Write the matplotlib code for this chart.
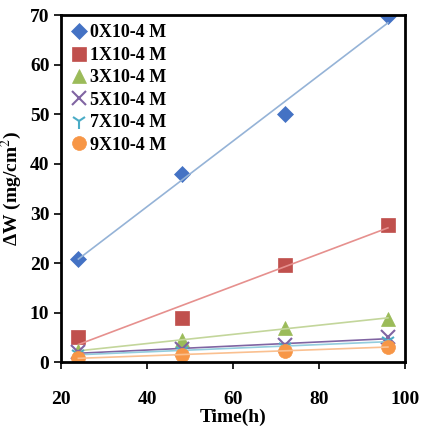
import numpy as np
import matplotlib.pyplot as plt

plt.rcParams['font.family'] = ['Liberation Serif', 'DejaVu Serif']
plt.rcParams['mathtext.fontset'] = 'stix'

time_h = [24, 48, 72, 96]
labels = ["0X10-4 M", "1X10-4 M", "3X10-4 M", "5X10-4 M", "7X10-4 M", "9X10-4 M"]
c0 = [20.8, 38.0, 50.0, 69.8]
c1 = [5.0, 9.0, 19.7, 27.6]
c3 = [2.2, 4.5, 6.9, 8.8]
c5 = [2.0, 2.6, 3.4, 5.0]
c7 = [1.6, 2.3, 3.0, 4.3]
c9 = [0.8, 1.5, 2.2, 3.1]
series = [c0, c1, c3, c5, c7, c9]

markers = ['D', 's', '^', 'x', '1', 'o']
colors = ['#4472c4', '#c0504d', '#9bbb59', '#8064a2', '#4bacc6', '#f79646']
linecols = ['#95b3d7', '#e6908e', '#c3d69b', '#8064a2', '#93cddd', '#fac090']
sizes = [8, 10, 10, 10, 11, 10]

fig = plt.figure(figsize=(4.22, 4.28), dpi=100)
ax = fig.add_axes([0.145, 0.154, 0.815, 0.81])
x = np.array(time_h)
for vals, m, c, lc, s, lab in zip(series, markers, colors, linecols, sizes, labels):
    ax.plot(x, vals, linestyle='none', marker=m, color=c, markersize=s, label=lab,
            markeredgewidth=1.5 if m in 'x1' else 0.5)
    k, b = np.polyfit(x, vals, 1)
    ax.plot(x, k * x + b, color=lc, linewidth=1.2)

ax.set_xlim(20, 100)
ax.set_ylim(0, 70)
ax.set_xticks([20, 40, 60, 80, 100])
ax.set_yticks(range(0, 71, 10))
for sp in ax.spines.values():
    sp.set_linewidth(2)
ax.tick_params(axis='x', direction='out', length=5, width=1.2, pad=16, labelsize=14)
ax.tick_params(axis='y', direction='out', length=5, width=1.2, labelsize=14)
for t in ax.get_xticklabels() + ax.get_yticklabels():
    t.set_fontweight('bold')
ax.set_xlabel("Time(h)", fontsize=14, fontweight='bold', labelpad=0)
ax.set_ylabel("ΔW (mg/cm$^{2}$)", fontsize=14, fontweight='bold')
ax.legend(loc='upper left', frameon=False, handletextpad=0.1,
          borderaxespad=0.1, labelspacing=0.3, handlelength=1.0,
          prop={'weight': 'bold', 'size': 13})
fig.savefig("out.png")
